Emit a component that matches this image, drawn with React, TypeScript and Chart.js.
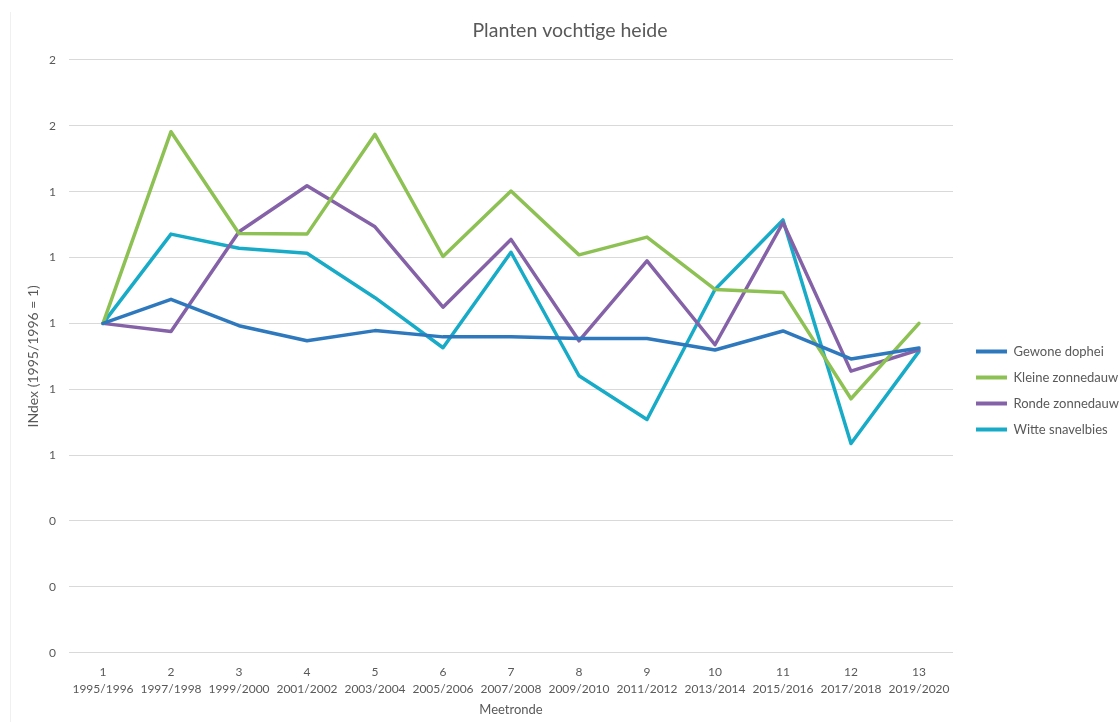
import React, { useEffect, useRef } from "react";
import { Chart, registerables } from "chart.js";

Chart.register(...registerables);

// Meetronde number and the season it covers
const roundNumbers = ["1", "2", "3", "4", "5", "6", "7", "8", "9", "10", "11", "12", "13"];
const roundPeriods = [
  "1995/1996", "1997/1998", "1999/2000", "2001/2002", "2003/2004", "2005/2006", "2007/2008",
  "2009/2010", "2011/2012", "2013/2014", "2015/2016", "2017/2018", "2019/2020",
];

// Index values per species (1995/1996 = 1)
const gewoneDophei = [1.0, 1.073, 0.993, 0.947, 0.978, 0.959, 0.959, 0.954, 0.954, 0.919, 0.977, 0.892, 0.925];
const kleineZonnedauw = [1.0, 1.582, 1.273, 1.271, 1.574, 1.203, 1.402, 1.208, 1.262, 1.103, 1.094, 0.771, 1.0];
const rondeZonnedauw = [1.0, 0.975, 1.278, 1.418, 1.293, 1.049, 1.255, 0.947, 1.19, 0.935, 1.306, 0.855, 0.92];
const witteSnavelbies = [1.0, 1.271, 1.228, 1.213, 1.078, 0.926, 1.216, 0.841, 0.708, 1.103, 1.314, 0.635, 0.915];

const seriesNames = ["Gewone dophei", "Kleine zonnedauw", "Ronde zonnedauw", "Witte snavelbies"];
const seriesColors = ["#2E78BE", "#8DC153", "#8562A8", "#17ABC7"];

// Value axis range
const yMin = 0;
const yMax = 1.8;
const yStep = 0.2;

const TEXT = "#595959";
const GRID = "#D9D9D9";
const FONT = "Lato, 'Open Sans', sans-serif";

export default function App() {
  const canvasRef = useRef<HTMLCanvasElement | null>(null);

  useEffect(() => {
    const canvas = canvasRef.current;
    if (!canvas) return;

    const values = [gewoneDophei, kleineZonnedauw, rondeZonnedauw, witteSnavelbies];
    const chart = new Chart(canvas, {
      type: "line",
      data: {
        labels: roundNumbers.map((n, i) => [n, roundPeriods[i]]),
        datasets: seriesNames.map((name, i) => ({
          label: name,
          data: values[i],
          borderColor: seriesColors[i],
          backgroundColor: seriesColors[i],
          borderWidth: 3.5,
          borderJoinStyle: "round" as const,
          borderCapStyle: "round" as const,
          pointRadius: 0,
          pointHoverRadius: 0,
          tension: 0,
          fill: false,
          yAxisID: "y",
        })),
      },
      options: {
        animation: false,
        responsive: false,
        events: [],
        layout: { padding: { left: 11, right: 10, top: 0, bottom: 0 } },
        font: { family: FONT },
        plugins: {
          tooltip: { enabled: false },
          title: {
            display: true,
            text: "Planten vochtige heide",
            color: TEXT,
            font: { family: FONT, size: 19.5, weight: "normal" },
            padding: { top: 19, bottom: 17.5 },
          },
          legend: {
            position: "right",
            align: "center",
            title: {
              display: true,
              text: "",
              font: { size: 10 },
              padding: { top: 47, bottom: 0 },
            },
            labels: {
              color: TEXT,
              font: { family: FONT, size: 13 },
              boxWidth: 31,
              boxHeight: 4,
              padding: 13,
              generateLabels: (c: Chart) =>
                Chart.defaults.plugins.legend.labels
                  .generateLabels(c)
                  .map((item: any) => ({ ...item, lineWidth: 0, fillStyle: item.strokeStyle })),
            },
          },
        },
        scales: {
          x: {
            type: "category",
            offset: true,
            grid: { display: false, drawTicks: false },
            border: { display: false },
            ticks: {
              color: TEXT,
              font: { family: FONT, size: 12, lineHeight: 17 / 12 },
              padding: 10.5,
              maxRotation: 0,
              autoSkip: false,
            },
            title: {
              display: true,
              text: "Meetronde",
              color: TEXT,
              font: { family: FONT, size: 13 },
              padding: { top: 5, bottom: 4 },
            },
            afterFit: (s: any) => {
              s.height = 69.3;
            },
          },
          y: {
            type: "linear",
            position: "left",
            min: yMin,
            max: yMax,
            grid: { color: GRID, lineWidth: 1, drawTicks: false },
            border: { display: false },
            ticks: {
              stepSize: yStep,
              color: TEXT,
              font: { family: FONT, size: 12 },
              padding: 13,
              callback: (v: any) => String(Math.round(Number(v))),
            },
            title: {
              display: true,
              text: "INdex (1995/1996 = 1)",
              color: TEXT,
              font: { family: FONT, size: 14 },
              padding: { top: 14.5, bottom: 0 },
            },
            afterFit: (s: any) => {
              s.width = 58;
            },
          },
          // spacer between the plot area and the legend
          gap: {
            type: "linear",
            position: "right",
            display: true,
            grid: { display: false, drawTicks: false },
            border: { display: false },
            ticks: { display: false },
            afterFit: (s: any) => {
              s.width = 10;
            },
          },
        },
      },
    } as any);

    return () => chart.destroy();
  }, []);

  return (
    <div
      style={{
        position: "fixed",
        left: 0,
        top: 0,
        width: 1119,
        height: 722,
        overflow: "hidden",
        background: "#ffffff",
      }}
    >
      <canvas
        ref={canvasRef}
        width={1139}
        height={722}
        style={{ position: "absolute", left: 0, top: 0, width: 1139, height: 722 }}
      />
      <div
        style={{
          position: "absolute",
          left: 10,
          top: 12,
          width: 1,
          height: 800,
          background: "#F0F0F0",
          pointerEvents: "none",
        }}
      />
    </div>
  );
}
